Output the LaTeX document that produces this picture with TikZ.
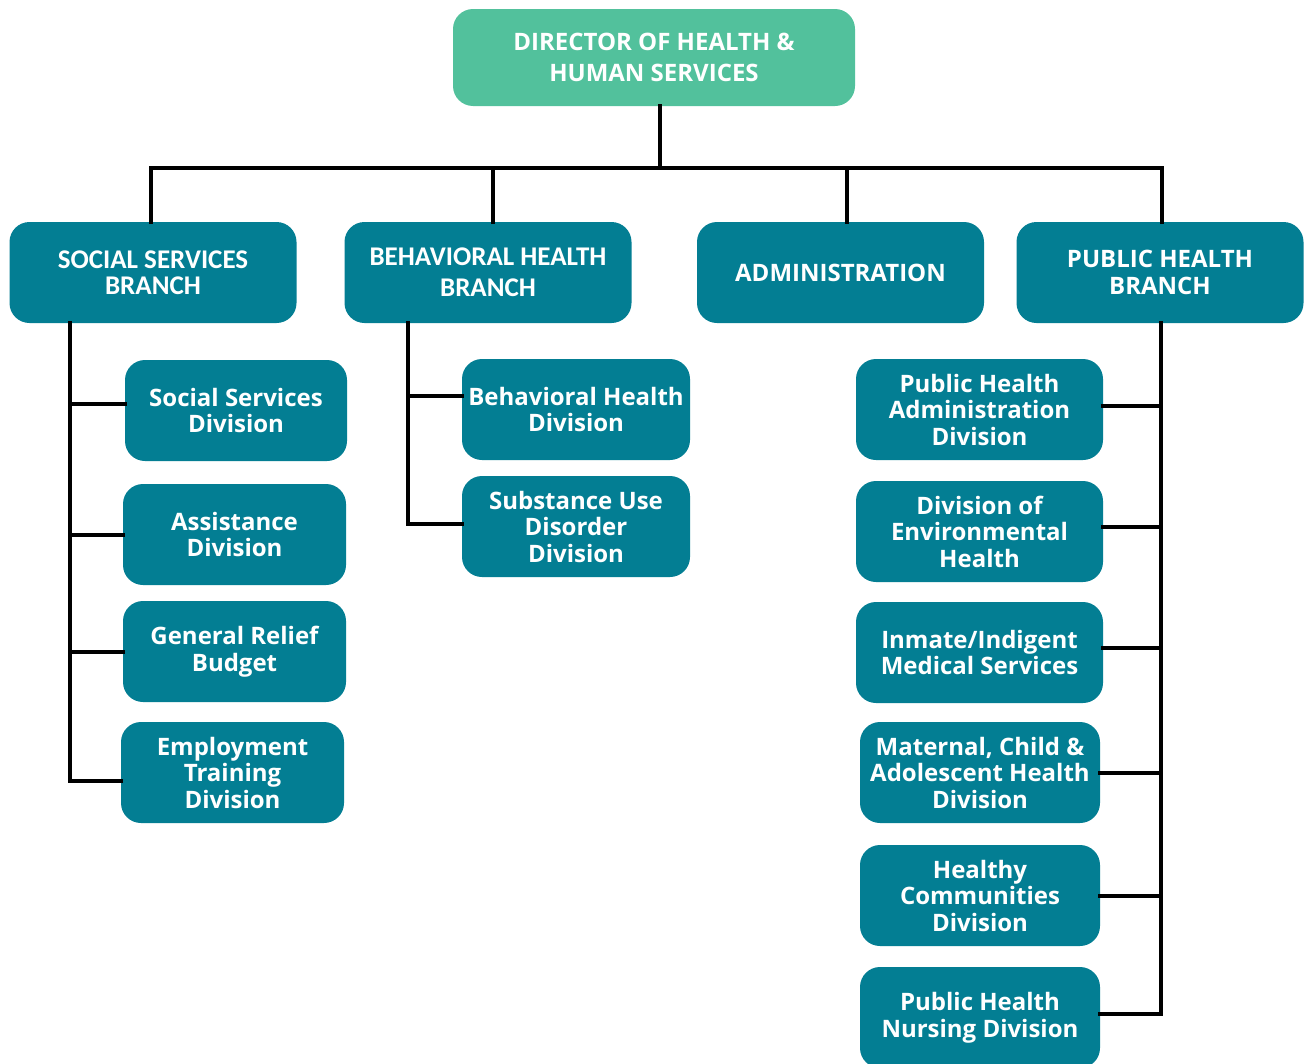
\documentclass[tikz,border=0pt]{standalone}
\usepackage{fontspec}
\setmainfont{Open Sans}
\newfontfamily\calfont{Carlito}
\definecolor{teal}{HTML}{037E93}
\definecolor{mint}{HTML}{52C19C}
\begin{document}
\begin{tikzpicture}[x=1pt,y=-1pt,
  box/.style={rectangle,rounded corners=20pt,fill=teal,text=white,align=center,inner sep=0pt,
    font=\fontsize{24}{26.5}\selectfont\bfseries},
  branch/.style={box,minimum width=287pt,minimum height=101pt},
  div/.style={box,minimum height=101pt},
  conn/.style={line width=4pt,black,line cap=rect}]
\useasboundingbox (0,0) rectangle (1305,1063);
\begin{scope}
\clip (0,0) rectangle (1305,1063);
% director
\node[box,fill=mint,minimum width=402pt,minimum height=97pt,font=\fontsize{24}{31}\selectfont\bfseries] (dir) at (654,57.5) {\raisebox{2pt}{\parbox{300pt}{\centering DIRECTOR OF HEALTH \&\\HUMAN SERVICES}}};
% branches
\node[branch,font=\calfont\fontsize{27}{26}\selectfont\bfseries] (ssb) at (153,272.5) {SOCIAL SERVICES\\BRANCH};
\node[branch,font=\calfont\fontsize{27}{31}\selectfont\bfseries] (bhb) at (488,272.5) {BEHAVIORAL HEALTH\\BRANCH};
\node[branch] (adm) at (840.5,272.5) {ADMINISTRATION};
\node[branch] (phb) at (1160,272.5) {PUBLIC HEALTH\\BRANCH};
% social services divisions
\node[div,minimum width=222pt] (ssd) at (236,410.5) {Social Services\\Division};
\node[div,minimum width=223pt] (asd) at (234.5,534.5) {Assistance\\Division};
\node[div,minimum width=223pt] (grb) at (234.5,651.5) {General Relief\\Budget};
\node[div,minimum width=223pt] (etd) at (232.5,772.5) {Employment\\Training\\Division};
% behavioral health divisions
\node[div,minimum width=228pt] (bhd) at (576,409.5) {Behavioral Health\\Division};
\node[div,minimum width=228pt] (sud) at (576,526.5) {Substance Use\\Disorder\\Division};
% public health divisions
\node[div,minimum width=247pt] (pha) at (979.5,409.5) {Public Health\\Administration\\Division};
\node[div,minimum width=247pt] (deh) at (979.5,531.5) {Division of\\Environmental\\Health};
\node[div,minimum width=247pt] (ims) at (979.5,652.5) {Inmate/Indigent\\Medical Services};
\node[div,minimum width=240pt] (mca) at (980,772.5) {Maternal, Child \&\\Adolescent Health\\Division};
\node[div,minimum width=240pt] (hcd) at (980,895.5) {Healthy\\Communities\\Division};
\node[div,minimum width=240pt] (phn) at (980,1017.5) {Public Health\\Nursing Division};
\end{scope}
% bus
\coordinate (busD) at (660,168);
\coordinate (busL) at (151,168);
\coordinate (busB) at (493,168);
\coordinate (busA) at (847,168);
\coordinate (busR) at (1162,168);
\draw[conn] (busD |- dir.south) -- (busD);
\draw[conn] (busL |- ssb.north) -- (busL) -- (busR) -- (busR |- phb.north);
\draw[conn] (busB) -- (busB |- bhb.north);
\draw[conn] (busA) -- (busA |- adm.north);
% connection points
\coordinate (ssdc) at ([yshift=6.5pt]ssd.west);
\coordinate (etdc) at ([yshift=-8.5pt]etd.west);
\coordinate (bhdc) at ([yshift=13.5pt]bhd.west);
\coordinate (sudc) at ([yshift=2.5pt]sud.west);
\coordinate (phac) at ([yshift=3.5pt]pha.east);
\coordinate (dehc) at ([yshift=4.5pt]deh.east);
\coordinate (imsc) at ([yshift=4.5pt]ims.east);
\coordinate (phnc) at ([yshift=3.5pt]phn.east);
% social services spine
\coordinate (sspine) at (70,0);
\draw[conn] (sspine |- ssb.south) -- (sspine |- etdc) -- (etdc);
\draw[conn] (ssdc) -- (sspine |- ssdc);
\draw[conn] (asd.west) -- (sspine |- asd.west);
\draw[conn] (grb.west) -- (sspine |- grb.west);
% behavioral spine
\coordinate (bspine) at (408,0);
\draw[conn] (bspine |- bhb.south) -- (bspine |- sudc) -- (sudc);
\draw[conn] (bhdc) -- (bspine |- bhdc);
% public health spine
\coordinate (pspine) at (1161,0);
\draw[conn] (pspine |- phb.south) -- (pspine |- phnc) -- (phnc);
\draw[conn] (phac) -- (pspine |- phac);
\draw[conn] (dehc) -- (pspine |- dehc);
\draw[conn] (imsc) -- (pspine |- imsc);
\draw[conn] (mca.east) -- (pspine |- mca.east);
\draw[conn] (hcd.east) -- (pspine |- hcd.east);
\end{tikzpicture}
\end{document}
